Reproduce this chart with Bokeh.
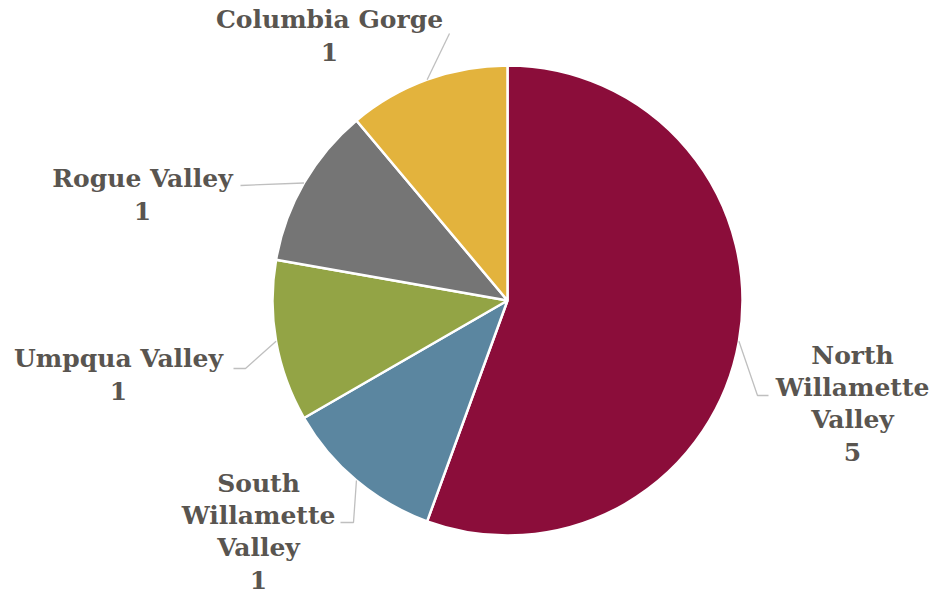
import math
from bokeh.plotting import figure
from bokeh.models import ColumnDataSource, Range1d
from bokeh.core.properties import value
from bokeh.embed import file_html
from bokeh.resources import INLINE

# ---- data ----
regions = ["North Willamette Valley", "South Willamette Valley", "Umpqua Valley", "Rogue Valley", "Columbia Gorge"]
counts = [5, 1, 1, 1, 1]
label_text = ["North\nWillamette\nValley", "South\nWillamette\nValley", "Umpqua Valley", "Rogue Valley", "Columbia Gorge"]
colors = ["#8B0D3A", "#5B86A0", "#93A445", "#757575", "#E3B33D"]

# ---- layout (pixel space, y measured downward from top) ----
W, H = 941, 594
CX, CY, R = 507, 300, 235
label_pos = [(852, 403), (258, 531), (118, 374), (142, 194), (329, 35)]
label_elbow = [[(757, 395), (768, 395)], [(353, 522), (340, 522)], [(245, 368), (233, 368)], [(240, 185)], [(449, 33)]]
FONT = "DejaVu Serif"
TXT = "#595550"

total = sum(counts)
starts, ends, mids = [], [], []
acc = 0
for c in counts:
    a0 = acc / total * 2 * math.pi
    acc += c
    a1 = acc / total * 2 * math.pi
    # clockwise from 12 o'clock -> bokeh anticlockwise from +x
    starts.append(math.pi / 2 - a1)
    ends.append(math.pi / 2 - a0)
    mids.append((a0 + a1) / 2)

p = figure(width=W, height=H, output_backend="svg", toolbar_location=None,
           x_range=Range1d(0, W), y_range=Range1d(0, H), min_border=0)
p.axis.visible = False
p.grid.visible = False
p.outline_line_color = None
p.background_fill_color = "white"
p.border_fill_color = "white"

src = ColumnDataSource(dict(x=[CX] * len(counts), y=[H - CY] * len(counts),
                            s=starts, e=ends, color=colors, region=regions, count=counts))
p.wedge(x="x", y="y", radius=R, start_angle="s", end_angle="e", fill_color="color",
        line_color="white", line_width=2.5, source=src)

# leader lines
xs, ys = [], []
for m, el in zip(mids, label_elbow):
    px = CX + R * math.sin(m)
    py = CY - R * math.cos(m)
    pts = [(px, py)] + el
    xs.append([q[0] for q in pts])
    ys.append([H - q[1] for q in pts])
p.multi_line(xs=xs, ys=ys, line_color="#BFBFBF", line_width=1.3)

# labels
lx, ly, lt = [], [], []
for (x, y), t, c in zip(label_pos, label_text, counts):
    lines = (t + "\n" + str(c)).split("\n")
    n = len(lines)
    for i, ln in enumerate(lines):
        lx.append(x)
        ly.append(H - (y + (i - (n - 1) / 2) * 32))
        lt.append(ln)
p.text(x=lx, y=ly, text=lt, text_font=value(FONT), text_font_style="bold",
       text_font_size="25px", text_color=TXT, text_align="center", text_baseline="middle")

open("out.html", "w").write(file_html(p, INLINE))
